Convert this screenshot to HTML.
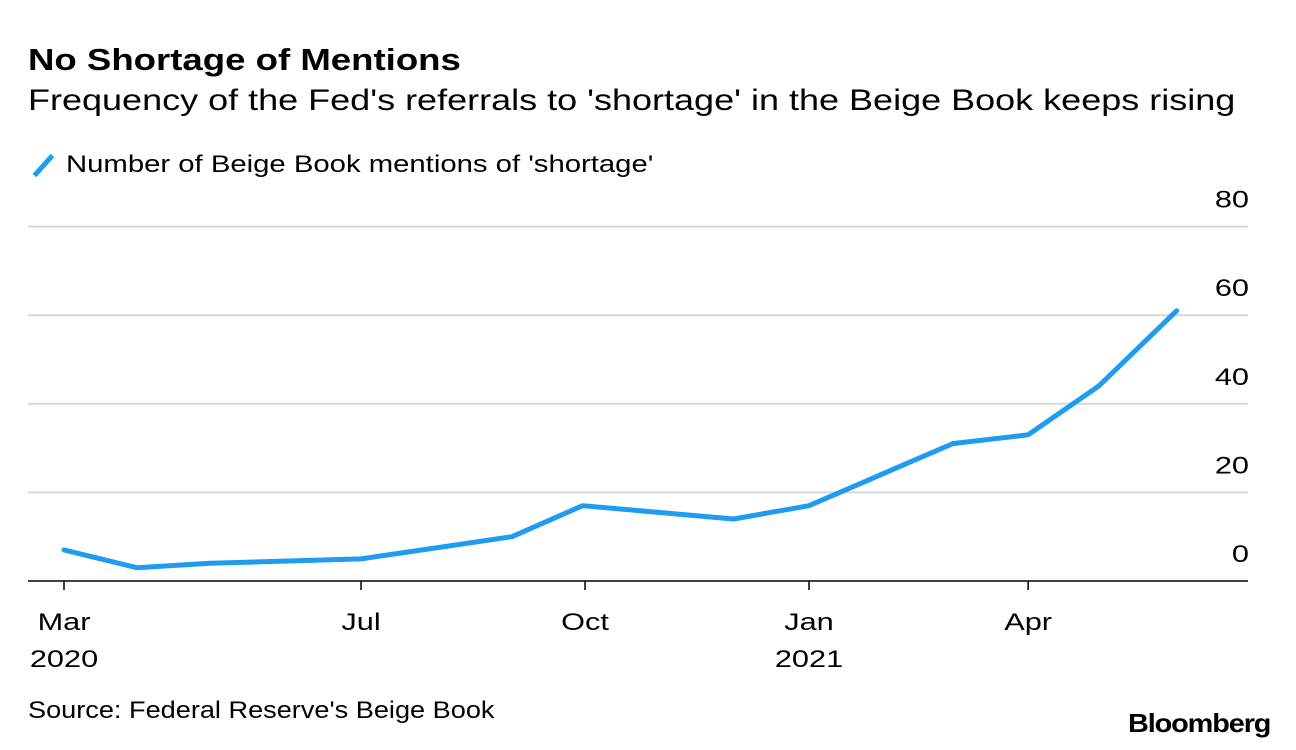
<!DOCTYPE html>
<html><head><meta charset="utf-8"><style>
body{margin:0;width:1296px;height:750px;background:#fff;font-family:"Liberation Sans",sans-serif;overflow:hidden;position:relative}
.t{position:absolute;white-space:nowrap;color:#000;transform-origin:0 0}
</style></head><body>
<div class="t" style="left:28px;top:42px;font-size:31px;font-weight:bold;transform:scaleX(1.18)">No Shortage of Mentions</div>
<div class="t" style="left:28px;top:84px;font-size:30px;transform:scaleX(1.2)">Frequency of the Fed's referrals to 'shortage' in the Beige Book keeps rising</div>
<div style="position:absolute;left:30px;top:163px;width:27px;height:5px;background:#1f9cf0;transform:rotate(-48deg)"></div>
<div class="t" style="left:66px;top:151px;font-size:24px;transform:scaleX(1.22)">Number of Beige Book mentions of 'shortage'</div>
<svg id="chart" width="1296" height="750" style="position:absolute;left:0;top:0"></svg>
<div class="t" style="left:28px;top:697px;font-size:24px;transform:scaleX(1.13)">Source: Federal Reserve's Beige Book</div>
<div class="t" style="left:1128px;top:708px;font-size:26px;font-weight:bold;letter-spacing:-1px;transform:scaleX(1.11)">Bloomberg</div>
<script>
const dates=["2020-03-01","2020-03-31","2020-04-30","2020-07-01","2020-09-01","2020-09-30","2020-12-01","2021-01-01","2021-03-01","2021-04-01","2021-04-30","2021-06-01"];
const values=[7,3,4,5,10,17,14,17,31,33,44,61];
const yTicks=[0,20,40,60,80];
const xTickDates=["2020-03-01","2020-07-01","2020-10-01","2021-01-01","2021-04-01"];
const xTickLabels=["Mar","Jul","Oct","Jan","Apr"];
const xTickYears=["2020","","","2021",""];
const NS="http://www.w3.org/2000/svg";
const svg=document.getElementById('chart');
const d0=Date.UTC(2020,2,1),d1=Date.UTC(2021,0,1);
function pd(s){const p=s.split('-');return Date.UTC(+p[0],+p[1]-1,+p[2]);}
function x(s){return 64+(pd(s)-d0)/(d1-d0)*745;}
function y(v){return 581-v*4.43;}
function mk(t,a){const e=document.createElementNS(NS,t);for(const k in a)e.setAttribute(k,a[k]);svg.appendChild(e);return e;}
function txt(tx,ty,anchor,s){return mk('text',{transform:'translate('+tx+','+ty+') scale(1.28,1)','text-anchor':anchor,'font-size':24,'font-family':'Liberation Sans, sans-serif'});}
yTicks.forEach(v=>{
 if(v>0){const g=mk('line',{x1:28,x2:1248,y1:y(v),y2:y(v),stroke:'#d9d9d9','stroke-width':2});
 
 }
 const t=txt(1249,y(v)-19,'end');
 t.textContent=v;
 
 
});
const ax=mk('line',{x1:28,x2:1248,y1:581,y2:581,stroke:'#000','stroke-width':1.5});


xTickDates.forEach((s,i)=>{
 const tk=mk('line',{x1:x(s),x2:x(s),y1:581,y2:590,stroke:'#000','stroke-width':1.5});
 
 
 const t=txt(x(s),630,'middle');
 t.textContent=xTickLabels[i];
 
 
 if(xTickYears[i]){const yt=txt(x(s),667,'middle');
 yt.textContent=xTickYears[i];
 
 }
});
const pts=dates.map((s,i)=>x(s)+','+y(values[i])).join(' ');
const ln=mk('polyline',{points:pts,fill:'none',stroke:'#1f9cf0','stroke-width':5,'stroke-linejoin':'round','stroke-linecap':'round'});


</script>
</body></html>
